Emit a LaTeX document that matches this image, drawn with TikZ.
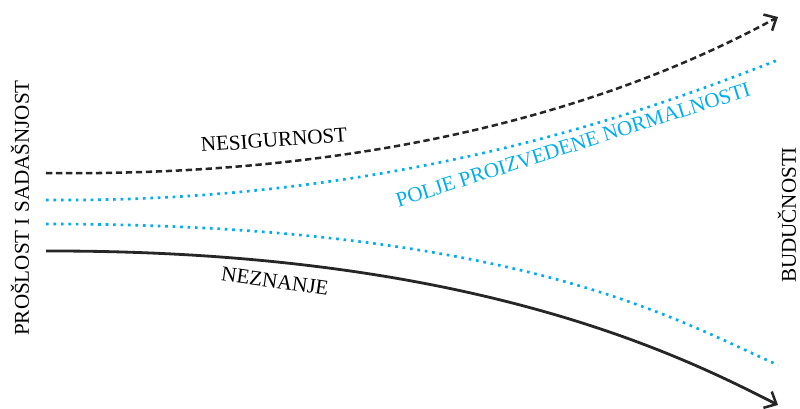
\documentclass[tikz,border=0pt]{standalone}
\usepackage{fontspec}
\setmainfont{Liberation Serif}
\usepackage{xcolor}
\usetikzlibrary{arrows.meta}
\definecolor{fieldblue}{RGB}{0,174,239}

\begin{document}
\begin{tikzpicture}[x=0.025cm,y=-0.025cm,>={Straight Barb[length=7pt,width=13pt,line width=1.8pt]},font=\fontsize{15}{18}\selectfont]
		\tikzstyle{uncertain}=[draw=black!85,line width=1.8pt,dash pattern=on 4.5pt off 2.6pt]
		\tikzstyle{ignorance}=[draw=black!85,line width=2pt]
		\tikzstyle{normal}=[draw=fieldblue,line width=1.9pt,dash pattern=on 1.9pt off 3.4pt]
		\tikzstyle{label}=[inner sep=0pt]

		\useasboundingbox (0,0) rectangle (800,408);

		\coordinate (U0) at (46,173);	\coordinate (U1) at (778,17);
		\coordinate (P0) at (46,200);	\coordinate (P1) at (778,60);
		\coordinate (Q0) at (46,224);	\coordinate (Q1) at (778,365);
		\coordinate (K0) at (46,251);	\coordinate (K1) at (778,405);

		\draw[uncertain,->] (U0) .. controls (450,178) and (680,70) .. (U1);
		\draw[normal] (P0) .. controls (400,203) and (650,110) .. (P1);
		\draw[normal] (Q0) .. controls (520,224) and (680,322) .. (Q1);
		\draw[ignorance,->] (K0) .. controls (470,250) and (680,355) .. (K1);

		\node[label,rotate=90] (past) at (20,208) {PROŠLOST I SADAŠNJOST};
		\node[label,rotate=90] (future) at (787,215) {BUDUČNOSTI};
		\node[label,rotate=4] (nes) at (274,140) {NESIGURNOST};
		\node[label,rotate=-8] (nez) at (275,281) {NEZNANJE};
		\node[label,rotate=17.6,text=fieldblue] (field) at (573,145) {POLJE PROIZVEDENE NORMALNOSTI};

	\end{tikzpicture}
\end{document}
